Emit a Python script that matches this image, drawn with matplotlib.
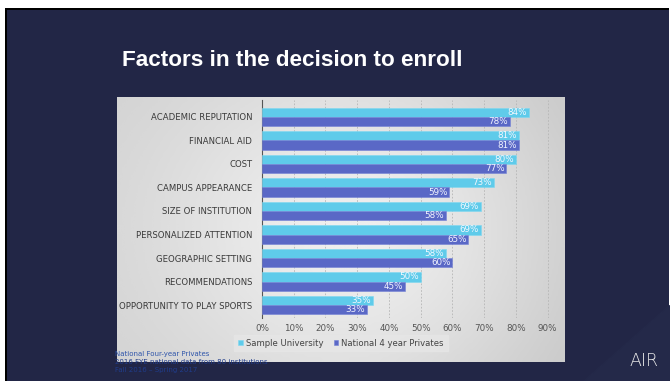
import numpy as np
import matplotlib.pyplot as plt
from matplotlib.patches import Rectangle

W, H = 670, 381

NAVY = "#222646"
LIGHT = "#5fcbea"
DARK = "#5a68c6"
INK = "#3a3a3a"

categories = ["ACADEMIC REPUTATION", "FINANCIAL AID", "COST", "CAMPUS APPEARANCE",
              "SIZE OF INSTITUTION", "PERSONALIZED ATTENTION", "GEOGRAPHIC SETTING",
              "RECOMMENDATIONS", "OPPORTUNITY TO PLAY SPORTS"]
sample_univ = [84, 81, 80, 73, 69, 69, 58, 50, 35]
national = [78, 81, 77, 59, 58, 65, 60, 45, 33]
x_ticks = [0, 10, 20, 30, 40, 50, 60, 70, 80, 90]


def fig_rect(x0, y0, x1, y1):
    # pixel box (top-left origin) -> figure fraction [l, b, w, h]
    return [x0 / W, (H - y1) / H, (x1 - x0) / W, (y1 - y0) / H]


fig = plt.figure(figsize=(W / 100, H / 100), dpi=100, facecolor="white")

# slide area with thin black top/left edge
l, b, w, hh = fig_rect(5, 8, 669, 381)
fig.patches.append(Rectangle((l, b), w, hh, transform=fig.transFigure,
                             facecolor="black", edgecolor="none", zorder=-10))
l, b, w, hh = fig_rect(7, 10, 669, 381)
fig.patches.append(Rectangle((l, b), w, hh, transform=fig.transFigure,
                             facecolor=NAVY, edgecolor="none", zorder=-9))

# subtle diagonal sheen bottom-right
fig.patches.append(plt.Polygon([(0.87, 0), (669 / W, 0), (669 / W, 0.2)], closed=True,
                               transform=fig.transFigure, color="#242949", zorder=-8))

fig.text(122 / W, 1 - 60 / H, "Factors in the decision to enroll", color="white",
         fontsize=16.2, fontweight="bold", family="Liberation Sans", va="center")

# gray gradient panel
bg = fig.add_axes(fig_rect(117, 97, 565, 362))
xx = np.linspace(0, 1, 200)
yy = np.linspace(0, 1, 100)
X, Y = np.meshgrid(xx, yy)
shade = 0.80 + 0.16 * np.exp(-((X - 0.55) ** 2) / 0.25 - ((Y - 0.5) ** 2) / 0.6)
shade = shade - 0.05 * X
bg.imshow(shade, cmap="gray", vmin=0, vmax=1, aspect="auto",
          extent=[0, 1, 0, 1], interpolation="bicubic")
bg.set_axis_off()

ax = fig.add_axes(fig_rect(262, 100, 554, 318))
ax.set_facecolor("none")
y = np.arange(len(categories))
h = 0.39
ax.barh(y - h / 2, sample_univ, height=h, color=LIGHT, edgecolor="#7fd8f0",
        linewidth=0.4, label="Sample University", zorder=3)
ax.barh(y + h / 2, national, height=h, color=DARK, edgecolor="#7482d6",
        linewidth=0.4, label="National 4 year Privates", zorder=3)

for yi, v in zip(y, sample_univ):
    ax.text(v - 0.6, yi - h / 2, f"{v}%", ha="right", va="center",
            fontsize=6.3, color="#f2f8ff", zorder=4)
for yi, v in zip(y, national):
    ax.text(v - 0.6, yi + h / 2, f"{v}%", ha="right", va="center",
            fontsize=6.3, color="#f2f4ff", zorder=4)

ax.set_xlim(0, 92)
ax.set_ylim(8.55, -0.72)
ax.set_xticks(x_ticks)
ax.set_xticklabels([f"{t}%" for t in x_ticks], fontsize=6.3, color="#555555")
ax.set_yticks(y)
ax.set_yticklabels(categories, fontsize=6.1, color=INK)
ax.tick_params(length=0, pad=7)
ax.tick_params(axis="x", pad=4)
ax.grid(True, axis="x", linestyle=(0, (2, 2)), color="#b5b5b5", linewidth=0.6, zorder=0)
for s in ["top", "right", "bottom"]:
    ax.spines[s].set_visible(False)
ax.spines["left"].set_color("#555555")
ax.spines["left"].set_linewidth(0.8)

leg = fig.legend(loc="center", bbox_to_anchor=(341 / W, 1 - 343 / H), ncol=2,
                 fontsize=6.1, frameon=True, handlelength=0.5, handleheight=0.5,
                 handletextpad=0.4, columnspacing=1.2, borderpad=0.45)
leg.get_frame().set_facecolor("#e6e6e6")
leg.get_frame().set_edgecolor("#e6e6e6")
leg.get_frame().set_boxstyle("square", pad=0)
for t in leg.get_texts():
    t.set_color("#444444")

fig.text(115 / W, 1 - 354 / H, "National Four-year Privates", fontsize=5,
         color="#2f55aa", va="center")
fig.text(115 / W, 1 - 362 / H, "2016 FYE national data from 80 institutions",
         fontsize=5, color="#203c8a", va="center")
fig.text(115 / W, 1 - 370 / H, "Fall 2016 \u2013 Spring 2017", fontsize=5,
         color="#203c8a", va="center")

fig.text(644 / W, 1 - 361 / H, "AIR", fontsize=12.5, color="#e8e8e8",
         fontweight="light", ha="center", va="center", family="DejaVu Sans")

fig.savefig("out.png", dpi=100, facecolor="white")
